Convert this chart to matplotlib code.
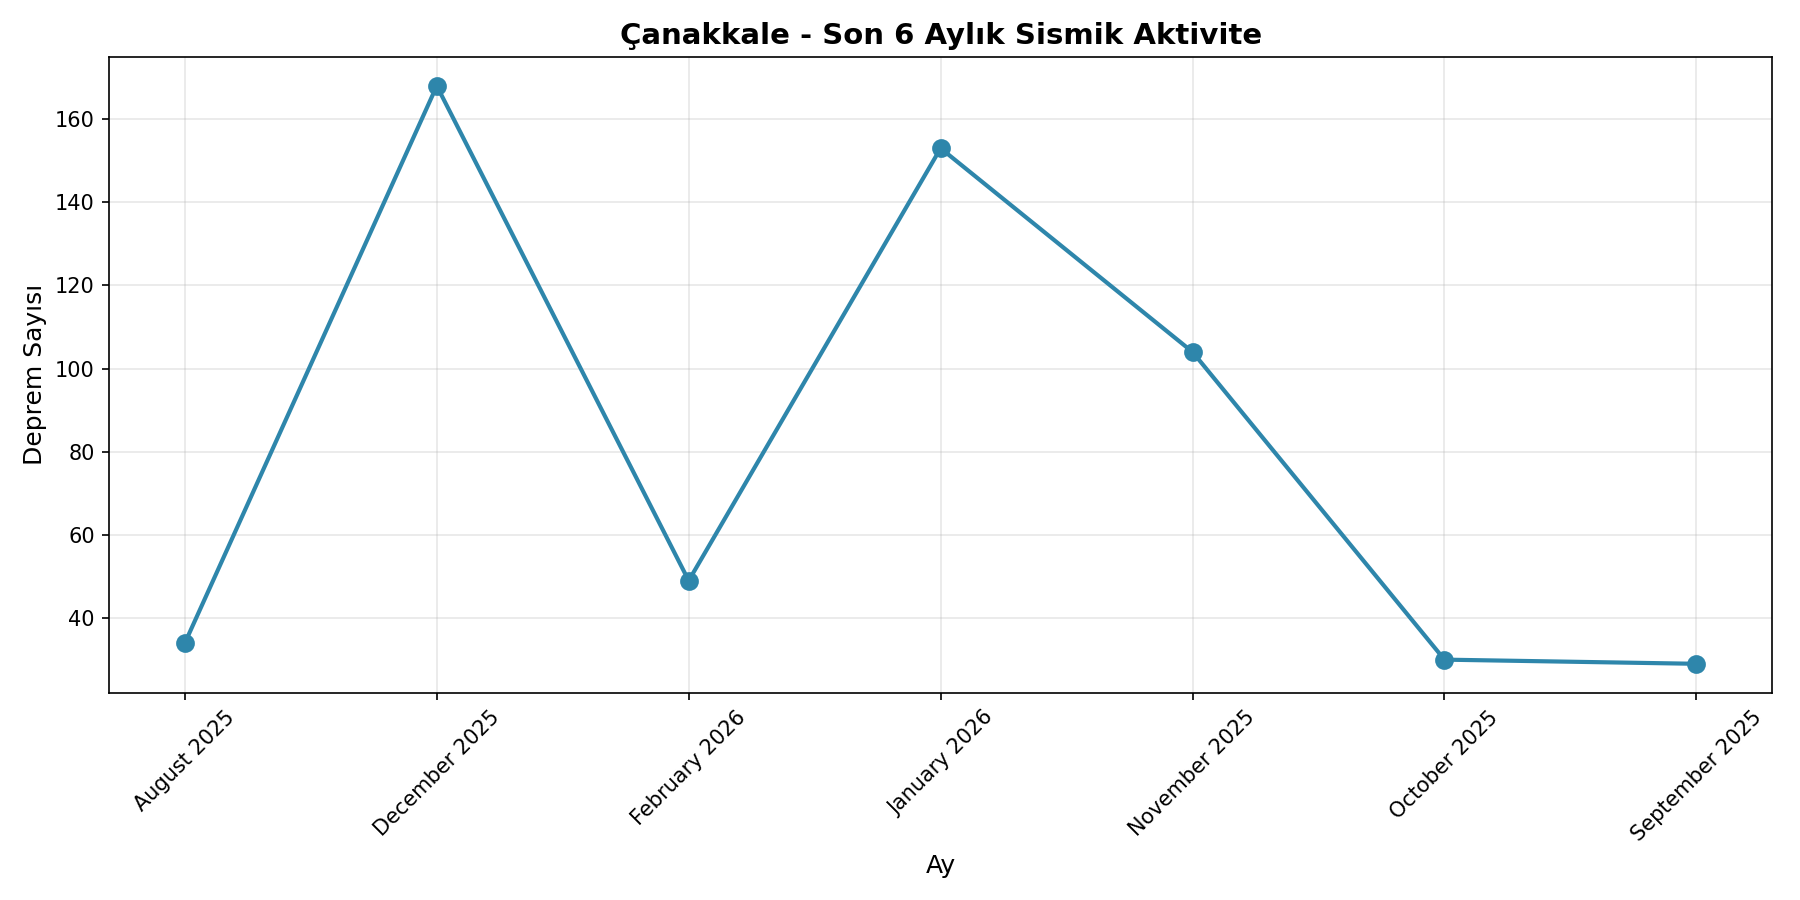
import matplotlib
matplotlib.use("Agg")
import matplotlib.pyplot as plt

months = ["August 2025", "December 2025", "February 2026", "January 2026",
          "November 2025", "October 2025", "September 2025"]
counts = [34, 168, 49, 153, 104, 30, 29]

fig, ax = plt.subplots(figsize=(12, 6), dpi=150)
ax.plot(months, counts, marker="o", linewidth=2, markersize=8, color="#2E86AB")
ax.set_title("Çanakkale - Son 6 Aylık Sismik Aktivite", fontsize=14, fontweight="bold")
ax.set_xlabel("Ay", fontsize=12)
ax.set_ylabel("Deprem Sayısı", fontsize=12)
ax.grid(True, alpha=0.3)
plt.xticks(rotation=45)
plt.tight_layout()
plt.savefig("out.png", dpi=150)
